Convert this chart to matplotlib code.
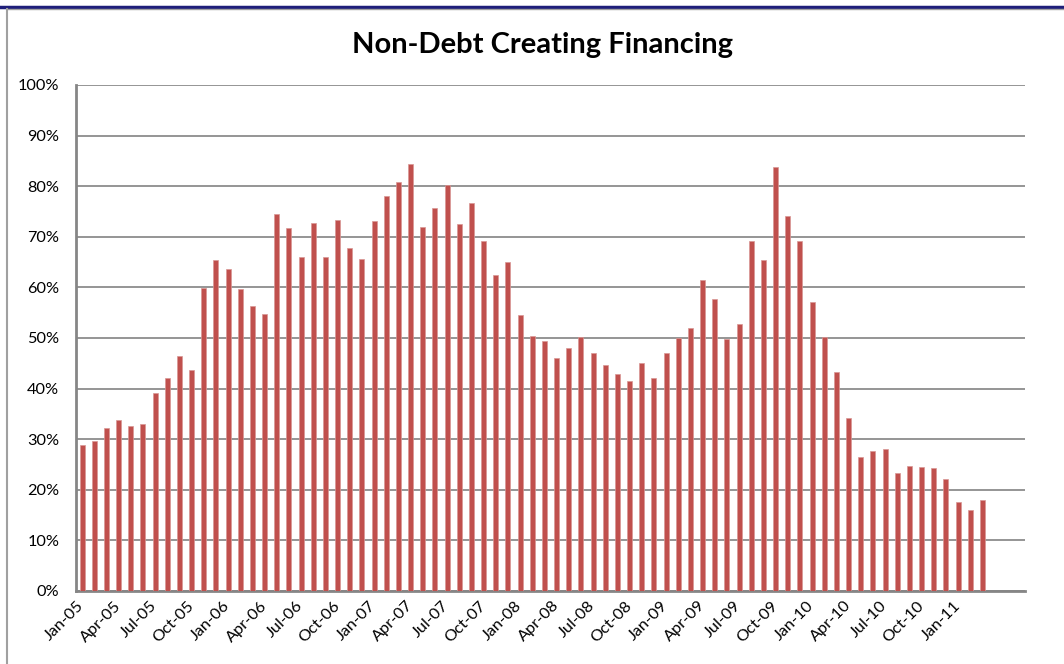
import numpy as np
import matplotlib.pyplot as plt
from matplotlib.lines import Line2D

plt.rcParams['font.family'] = ['Lato', 'DejaVu Sans']

months = ['Jan', 'Feb', 'Mar', 'Apr', 'May', 'Jun',
          'Jul', 'Aug', 'Sep', 'Oct', 'Nov', 'Dec']
labels = [m + '-%02d' % y for y in range(5, 12) for m in months][:75]

# share of non-debt creating financing, % (Jan-05 .. Mar-11)
values = [28.8, 29.6, 32.3, 33.7, 32.7, 33.0, 39.2, 42.0, 46.5, 43.6, 59.9, 65.5,
          63.7, 59.6, 56.4, 54.7, 74.5, 71.8, 66.1, 72.7, 66.1, 73.3, 67.8, 65.7,
          73.1, 78.0, 80.9, 84.3, 72.0, 75.6, 80.3, 72.5, 76.6, 69.1, 62.5, 65.1,
          54.5, 50.4, 49.5, 46.1, 48.1, 50.2, 47.1, 44.7, 42.9, 41.5, 45.0, 42.0,
          47.1, 50.0, 52.0, 61.5, 57.8, 49.8, 52.8, 69.1, 65.4, 83.7, 74.1, 69.1,
          57.2, 50.2, 43.3, 34.1, 26.5, 27.7, 28.1, 23.3, 24.8, 24.6, 24.4, 22.1,
          17.6, 16.0, 17.9]

yticks = [0, 10, 20, 30, 40, 50, 60, 70, 80, 90, 100]

fig = plt.figure(figsize=(10.64, 6.64), dpi=100)
ax = fig.add_axes([76/1064, 1 - 591/664, (1025 - 76)/1064, (591 - 85)/664])

x = np.arange(len(values))
ax.bar(x, values, width=0.4, color='#C0504D', edgecolor='#D99694', linewidth=0.5, zorder=3)

ax.set_ylim(0, 100)
ax.set_xlim(-0.5, 77.5)
ax.set_yticks(yticks)
ax.set_yticklabels(['%d%%' % t for t in yticks], fontsize=11.7)
ax.yaxis.grid(True, color='#8C8C8C', linewidth=1.3, zorder=0)
ax.set_axisbelow(True)

ax.set_xticks(x[::3])
ax.set_xticklabels(labels[::3], rotation=45, ha='right', va='center',
                   rotation_mode='anchor', fontsize=11.7)
ax.tick_params(length=0)
ax.tick_params(axis='x', pad=9)
ax.tick_params(axis='y', pad=12)

for s in ['top', 'right']:
    ax.spines[s].set_visible(False)
for s in ['left', 'bottom']:
    ax.spines[s].set_color('#868686')
    ax.spines[s].set_linewidth(2)

fig.text(542/1064, 1 - 45/664, 'Non-Debt Creating Financing', ha='center', va='center',
         fontsize=21, fontweight='bold')

# frame of the chart area
fig.add_artist(Line2D([0, 1], [1 - 7/664, 1 - 7/664], color='#1F1F7A', linewidth=2.5))
fig.add_artist(Line2D([7/1064, 7/1064], [0, 1 - 9/664], color='#A0A0A0', linewidth=1.5))
fig.add_artist(Line2D([7/1064, 1], [1 - 9/664, 1 - 9/664], color='#A0A0A0', linewidth=1))

fig.savefig('out.png', dpi=100)
